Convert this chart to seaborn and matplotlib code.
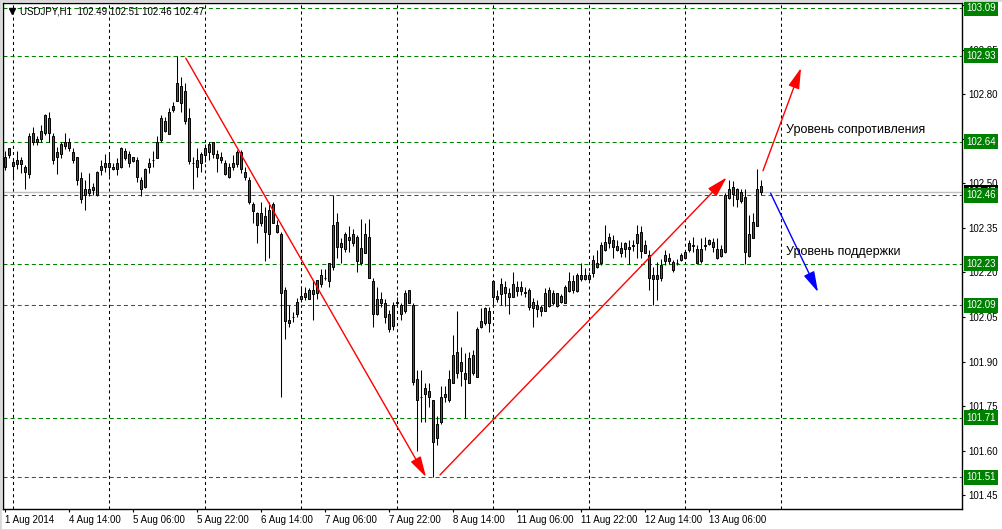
import numpy as np
import pandas as pd
import matplotlib
matplotlib.use("Agg")
import matplotlib.pyplot as plt
import matplotlib.transforms as mtransforms
from matplotlib.patches import Rectangle
import seaborn as sns

# ---------------- data ----------------
opens = [102.590, 102.596, 102.572, 102.579, 102.579, 102.557, 102.531, 102.669, 102.649, 102.649,
         102.669, 102.720, 102.660, 102.588, 102.599, 102.639, 102.641, 102.607, 102.588, 102.520,
         102.461, 102.467, 102.478, 102.461, 102.546, 102.569, 102.569, 102.548, 102.569, 102.557,
         102.610, 102.599, 102.576, 102.579, 102.481, 102.489, 102.557, 102.579, 102.587, 102.647,
         102.711, 102.666, 102.748, 102.778, 102.829, 102.812, 102.722, 102.570, 102.557, 102.569,
         102.596, 102.607, 102.639, 102.599, 102.588, 102.569, 102.521, 102.569, 102.566, 102.607,
         102.540, 102.510, 102.430, 102.400, 102.368, 102.391, 102.329, 102.431, 102.360, 102.329,
         102.141, 102.040, 102.050, 102.059, 102.110, 102.132, 102.110, 102.128, 102.130, 102.160,
         102.182, 102.170, 102.220, 102.369, 102.299, 102.278, 102.310, 102.329, 102.319, 102.231,
         102.267, 102.319, 102.172, 102.061, 102.098, 102.098, 102.061, 102.020, 102.098, 102.091,
         102.069, 102.141, 102.091, 101.840, 101.782, 101.790, 101.801, 101.771, 101.641, 101.697,
         101.779, 101.771, 101.829, 101.933, 101.900, 101.860, 101.829, 101.922, 101.849, 102.017,
         102.029, 102.071, 102.170, 102.121, 102.128, 102.150, 102.119, 102.119, 102.150, 102.150,
         102.132, 102.141, 102.080, 102.091, 102.069, 102.069, 102.088, 102.132, 102.088, 102.102,
         102.098, 102.138, 102.172, 102.138, 102.192, 102.177, 102.192, 102.197, 102.233, 102.231,
         102.276, 102.321, 102.310, 102.276, 102.282, 102.278, 102.287, 102.290, 102.299, 102.338,
         102.293, 102.259, 102.192, 102.192, 102.181, 102.239, 102.250, 102.235, 102.231, 102.242,
         102.268, 102.276, 102.290, 102.279, 102.237, 102.290, 102.295, 102.302, 102.279, 102.257,
         102.268, 102.450, 102.489, 102.448, 102.471, 102.453, 102.257, 102.317, 102.358, 102.490]
highs = [102.610, 102.621, 102.587, 102.610, 102.590, 102.562, 102.669, 102.691, 102.661, 102.697,
         102.733, 102.742, 102.669, 102.624, 102.641, 102.669, 102.652, 102.619, 102.590, 102.538,
         102.512, 102.535, 102.500, 102.542, 102.579, 102.599, 102.599, 102.569, 102.586, 102.624,
         102.619, 102.610, 102.590, 102.590, 102.523, 102.553, 102.587, 102.610, 102.661, 102.729,
         102.725, 102.754, 102.774, 102.930, 102.860, 102.838, 102.754, 102.590, 102.619, 102.607,
         102.632, 102.641, 102.641, 102.613, 102.607, 102.579, 102.569, 102.596, 102.613, 102.613,
         102.557, 102.523, 102.439, 102.405, 102.439, 102.422, 102.439, 102.439, 102.377, 102.338,
         102.152, 102.091, 102.067, 102.113, 102.154, 102.152, 102.147, 102.175, 102.175, 102.211,
         102.211, 102.231, 102.461, 102.402, 102.316, 102.338, 102.355, 102.346, 102.327, 102.379,
         102.366, 102.379, 102.181, 102.152, 102.135, 102.110, 102.072, 102.100, 102.118, 102.097,
         102.141, 102.141, 102.097, 101.872, 101.872, 101.829, 101.829, 101.771, 101.717, 101.818,
         101.818, 101.872, 101.990, 102.071, 101.950, 101.930, 101.933, 101.939, 102.017, 102.080,
         102.085, 102.085, 102.175, 102.141, 102.181, 102.170, 102.147, 102.200, 102.170, 102.170,
         102.152, 102.147, 102.113, 102.108, 102.091, 102.147, 102.152, 102.141, 102.132, 102.128,
         102.158, 102.203, 102.192, 102.197, 102.231, 102.215, 102.200, 102.259, 102.276, 102.304,
         102.360, 102.332, 102.327, 102.310, 102.301, 102.304, 102.310, 102.310, 102.360, 102.355,
         102.310, 102.276, 102.220, 102.236, 102.247, 102.276, 102.266, 102.242, 102.247, 102.265,
         102.276, 102.310, 102.321, 102.293, 102.315, 102.321, 102.313, 102.316, 102.317, 102.293,
         102.467, 102.512, 102.507, 102.484, 102.482, 102.482, 102.394, 102.400, 102.549, 102.510]
lows = [102.546, 102.586, 102.512, 102.549, 102.535, 102.482, 102.520, 102.630, 102.630, 102.641,
        102.664, 102.641, 102.565, 102.531, 102.585, 102.616, 102.610, 102.568, 102.495, 102.433,
        102.411, 102.459, 102.461, 102.459, 102.529, 102.540, 102.526, 102.546, 102.529, 102.551,
        102.579, 102.557, 102.572, 102.506, 102.459, 102.486, 102.535, 102.557, 102.587, 102.641,
        102.673, 102.666, 102.742, 102.777, 102.742, 102.699, 102.565, 102.481, 102.523, 102.540,
        102.572, 102.579, 102.585, 102.538, 102.569, 102.529, 102.520, 102.546, 102.557, 102.535,
        102.512, 102.430, 102.366, 102.299, 102.355, 102.240, 102.248, 102.366, 102.333, 101.780,
        101.976, 102.017, 102.033, 102.049, 102.102, 102.108, 102.110, 102.040, 102.110, 102.152,
        102.175, 102.152, 102.209, 102.248, 102.231, 102.270, 102.270, 102.290, 102.200, 102.225,
        102.265, 102.181, 102.017, 102.058, 102.085, 102.031, 101.998, 102.007, 102.087, 102.040,
        102.063, 102.096, 101.821, 101.600, 101.697, 101.697, 101.748, 101.510, 101.619, 101.691,
        101.765, 101.765, 101.827, 101.843, 101.816, 101.709, 101.827, 101.854, 101.849, 102.012,
        102.023, 101.998, 102.091, 102.102, 102.091, 102.088, 102.061, 102.119, 102.121, 102.125,
        102.117, 102.074, 102.017, 102.049, 102.052, 102.069, 102.083, 102.091, 102.085, 102.096,
        102.096, 102.135, 102.130, 102.135, 102.170, 102.175, 102.170, 102.186, 102.214, 102.225,
        102.274, 102.282, 102.248, 102.274, 102.251, 102.253, 102.229, 102.273, 102.248, 102.248,
        102.265, 102.141, 102.091, 102.108, 102.170, 102.225, 102.229, 102.203, 102.225, 102.237,
        102.244, 102.270, 102.268, 102.228, 102.231, 102.276, 102.293, 102.270, 102.246, 102.253,
        102.265, 102.447, 102.425, 102.422, 102.433, 102.228, 102.253, 102.315, 102.355, 102.460]
closes = [102.557, 102.619, 102.560, 102.567, 102.567, 102.537, 102.660, 102.639, 102.639, 102.678,
          102.729, 102.669, 102.578, 102.607, 102.632, 102.627, 102.619, 102.578, 102.512, 102.448,
          102.481, 102.482, 102.489, 102.538, 102.560, 102.557, 102.557, 102.557, 102.549, 102.619,
          102.587, 102.569, 102.588, 102.521, 102.512, 102.549, 102.569, 102.580, 102.641, 102.722,
          102.677, 102.742, 102.762, 102.840, 102.771, 102.710, 102.576, 102.569, 102.579, 102.599,
          102.619, 102.632, 102.599, 102.587, 102.579, 102.531, 102.557, 102.557, 102.607, 102.549,
          102.521, 102.439, 102.408, 102.360, 102.400, 102.338, 102.411, 102.368, 102.338, 102.130,
          102.038, 102.029, 102.051, 102.100, 102.121, 102.119, 102.141, 102.141, 102.173, 102.192,
          102.183, 102.231, 102.360, 102.287, 102.287, 102.329, 102.321, 102.299, 102.240, 102.282,
          102.329, 102.181, 102.061, 102.110, 102.110, 102.049, 102.009, 102.091, 102.099, 102.061,
          102.130, 102.098, 101.830, 101.771, 101.781, 101.810, 101.780, 101.630, 101.690, 101.782,
          101.790, 101.840, 101.922, 101.860, 101.869, 101.840, 101.911, 101.860, 102.009, 102.038,
          102.080, 102.029, 102.119, 102.110, 102.162, 102.130, 102.130, 102.160, 102.138, 102.138,
          102.133, 102.083, 102.102, 102.076, 102.083, 102.132, 102.141, 102.098, 102.130, 102.121,
          102.152, 102.172, 102.141, 102.192, 102.177, 102.192, 102.177, 102.242, 102.220, 102.293,
          102.301, 102.299, 102.287, 102.290, 102.267, 102.299, 102.278, 102.291, 102.329, 102.273,
          102.267, 102.181, 102.177, 102.177, 102.225, 102.259, 102.239, 102.209, 102.232, 102.259,
          102.248, 102.299, 102.291, 102.231, 102.279, 102.291, 102.310, 102.287, 102.248, 102.278,
          102.461, 102.482, 102.464, 102.482, 102.441, 102.268, 102.329, 102.369, 102.482, 102.470]

symbol = "USDJPY,H1"
time_label_bars = [0, 16, 32, 48, 64, 80, 96, 112, 128, 144, 160, 176]
time_labels = ["1 Aug 2014", "4 Aug 14:00", "5 Aug 06:00", "5 Aug 22:00", "6 Aug 14:00",
               "7 Aug 06:00", "7 Aug 22:00", "8 Aug 14:00", "11 Aug 06:00", "11 Aug 22:00",
               "12 Aug 14:00", "13 Aug 06:00"]
day_separator_bars = [2, 26, 50, 74, 98, 122, 146, 170, 194]
price_ticks = [103.10, 102.95, 102.80, 102.65, 102.50, 102.35, 102.20, 102.05, 101.90,
               101.75, 101.60, 101.45]
hidden_tick_labels = [102.65]   # covered by the 102.64 level box in the original
level_prices = [103.09, 102.93, 102.64, 102.46, 102.23, 102.09, 101.71, 101.51]
bid_price = 102.47
# arrows: (bar_start, price_start, bar_end, price_end)
red_arrows = [(45.2, 102.922, 105.25, 101.511),
              (108.75, 101.518, 180.4, 102.520),
              (189.5, 102.543, 199.0, 102.889)]
blue_arrows = [(191.4, 102.467, 203.25, 102.134)]
notes = [(195.25, 102.680, "Уровень сопротивления"),
         (195.25, 102.269, "Уровень поддержки")]

df = pd.DataFrame({"open": opens, "high": highs, "low": lows, "close": closes})
df["bar"] = np.arange(len(df))

# ---------------- style ----------------
sns.set_theme(style="white")
plt.rcParams["font.family"] = ["Liberation Sans", "DejaVu Sans"]
plt.rcParams["lines.scale_dashes"] = False

W, H = 1003, 530
fig = plt.figure(figsize=(W / 100, H / 100), dpi=100)
fig.patch.set_facecolor("white")
ax_l, ax_r, ax_t, ax_b = 3, 962, 3, 509
ax = fig.add_axes([ax_l / W, (H - ax_b) / H, (ax_r - ax_l) / W, (ax_b - ax_t) / H])
ax.set_facecolor("white")

ax.set_xlim(-0.5, 239.25)
ax.set_ylim(101.403, 103.108)

# day separators (vertical dashed grid)
for b in day_separator_bars:
    ax.axvline(b, color="black", lw=0.75, ls=(0, (2.2, 2.2)), zorder=1)

# horizontal levels
for v in level_prices:
    ax.axhline(v, color="#008000", lw=0.75, ls=(0, (2.9, 2.2)), zorder=2)
ax.axhline(bid_price, color="#c0c0c0", lw=1.0, zorder=1.5)

# candles
up = df["close"] >= df["open"]
ax.vlines(df["bar"], df["low"], df["high"], color="black", lw=0.75, zorder=3)
body_colors = np.where(up, "#0f8a0f", "#d81414")
ax.bar(df["bar"], df["close"] - df["open"], bottom=df["open"], width=0.5,
       color=body_colors, edgecolor="black", linewidth=0.7, zorder=4)

# arrows
for (x0, y0, x1, y1) in red_arrows:
    ax.annotate("", xy=(x1, y1), xytext=(x0, y0),
                arrowprops=dict(arrowstyle="-|>,head_length=0.9,head_width=0.25",
                                color="#ff0000", lw=1.0, mutation_scale=14,
                                shrinkA=0, shrinkB=0), zorder=6)
for (x0, y0, x1, y1) in blue_arrows:
    ax.annotate("", xy=(x1, y1), xytext=(x0, y0),
                arrowprops=dict(arrowstyle="-|>,head_length=0.9,head_width=0.25",
                                color="#0000ff", lw=1.0, mutation_scale=14,
                                shrinkA=0, shrinkB=0), zorder=6)

for (x, y, s) in notes:
    ax.text(x, y, s, ha="left", va="center", fontsize=9, color="black", zorder=7)

# axes / ticks
for sp in ax.spines.values():
    sp.set_color("black")
    sp.set_linewidth(1.0)
ax.yaxis.tick_right()
ax.set_yticks(price_ticks)
ax.set_yticklabels(["" if v in hidden_tick_labels else f"{v:.2f}" for v in price_ticks])
ax.tick_params(axis="y", direction="out", length=2, width=0.8, pad=2.6,
               labelsize=7, colors="black", right=True, left=False)
ax.set_xticks(time_label_bars)
ax.set_xticklabels(time_labels)
ax.tick_params(axis="x", direction="out", length=2.5, width=0.8, pad=2,
               labelsize=7, colors="black", bottom=True)
for lbl in ax.get_xticklabels():
    lbl.set_ha("left")

# price label boxes on the right axis
trans = mtransforms.blended_transform_factory(ax.transAxes, ax.transData)
xbox = (966 - ax_l) / (ax_r - ax_l)
ax.text(xbox, bid_price, f"{bid_price:.2f}", transform=trans, ha="left", va="center",
        fontsize=7, color="white", clip_on=False, zorder=9,
        bbox=dict(boxstyle="square,pad=0.25", fc="black", ec="none"))
for v in level_prices:
    ax.text(xbox, v, f"{v:.2f}", transform=trans, ha="left", va="center",
            fontsize=7, color="white", clip_on=False, zorder=10,
            bbox=dict(boxstyle="square,pad=0.25", fc="#008000", ec="none"))

# header
last = df.iloc[-1]
ax.plot([(12 - ax_l) / (ax_r - ax_l)], [(ax_b - 11) / (ax_b - ax_t)], marker="v",
        ms=4, color="black", transform=ax.transAxes, clip_on=False, zorder=8)
ax.text((20 - ax_l) / (ax_r - ax_l), (ax_b - 12) / (ax_b - ax_t),
        f"{symbol}  {last['open']:.2f} {last['high']:.2f} {last['low']:.2f} {last['close']:.2f}",
        transform=ax.transAxes, ha="left", va="center", fontsize=7, color="black", zorder=8)

# window border
fig.patches.append(Rectangle((0, 0), 1, 1, transform=fig.transFigure, fill=False,
                             ec="#d8d8d8", lw=2.0))

fig.savefig("out.png", dpi=100)
